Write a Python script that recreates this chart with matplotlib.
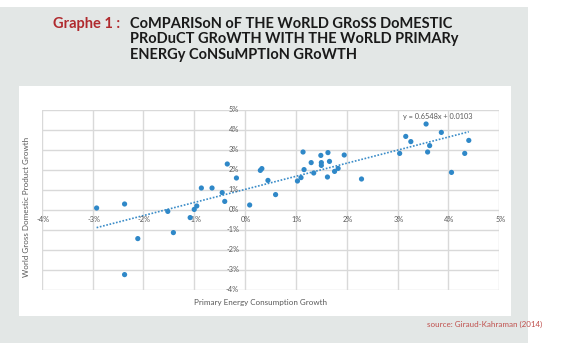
import numpy as np
import matplotlib
matplotlib.use('Agg')
import matplotlib.pyplot as plt
from matplotlib.patches import Rectangle

plt.rcParams['font.family'] = ['Lato', 'DejaVu Sans']

# Data (growth in %)
energy_growth = [-2.92, -2.37, -2.37, -2.11, -1.52, -1.41, -1.08, -1.00, -0.95, -0.86,
                 -0.65, -0.45, -0.40, -0.35, -0.17, 0.09, 0.30, 0.33, 0.45, 0.60,
                 1.03, 1.10, 1.14, 1.16, 1.30, 1.35, 1.49, 1.50, 1.50, 1.62,
                 1.63, 1.66, 1.76, 1.83, 1.95, 2.29, 3.04, 3.16, 3.26, 3.56,
                 3.59, 3.63, 3.86, 4.06, 4.32, 4.40]
gdp_growth = [0.10, 0.30, -3.23, -1.43, -0.07, -1.13, -0.38, 0.03, 0.20, 1.10,
              1.10, 0.87, 0.43, 2.30, 1.60, 0.25, 1.98, 2.07, 1.48, 0.77,
              1.45, 1.62, 2.90, 2.02, 2.37, 1.85, 2.73, 2.37, 2.23, 1.65,
              2.87, 2.43, 1.93, 2.08, 2.75, 1.55, 2.83, 3.68, 3.42, 4.30,
              2.90, 3.22, 3.88, 1.88, 2.83, 3.48]
slope = 0.6548
intercept = 0.0103
tick_vals = [-4, -3, -2, -1, 0, 1, 2, 3, 4, 5]

W, H = 563, 353
fig = plt.figure(figsize=(W / 100, H / 100), dpi=100)
fig.patch.set_facecolor('white')

def fx(px):
    return px / W

def fy(py):
    return 1 - py / H

# gray page background and white chart panel
fig.patches.append(Rectangle((fx(0), fy(343)), fx(528), fy(7) - fy(343),
                             transform=fig.transFigure, facecolor='#e3e7e6',
                             edgecolor='none', zorder=-3))
fig.patches.append(Rectangle((fx(19), fy(316)), fx(511) - fx(19), fy(86) - fy(316),
                             transform=fig.transFigure, facecolor='white',
                             edgecolor='none', zorder=-2))

# title
red = '#b02a2e'
fig.text(fx(53), fy(24), 'Graphe 1 :', color=red, fontsize=10.5, fontweight='bold',
         ha='left', va='center')
title_lines = ['CoMPARISoN oF THE WoRLD GRoSS DoMESTIC',
               'PRoDuCT GRoWTH WITH THE WoRLD PRIMARy',
               'ENERGy CoNSuMPTIoN GRoWTH']
for i, line in enumerate(title_lines):
    fig.text(fx(130), fy(24 + 15.5 * i), line, color='#1a1a1a', fontsize=10.5,
             fontweight='bold', ha='left', va='center')

fig.text(fx(427), fy(324), 'source: Giraud-Kahraman (2014)', color='#c0504d',
         fontsize=5.8, ha='left', va='center')

# plot area
ax = fig.add_axes([fx(41.7), fy(290), fx(499.3) - fx(41.7), fy(110) - fy(290)])
ax.set_zorder(2)
ax.set_xlim(-4, 5)
ax.set_ylim(-4, 5)
ax.patch.set_alpha(0)
for s in ax.spines.values():
    s.set_visible(False)
ax.set_xticks([])
ax.set_yticks([])

grid_col = '#d9d9d9'
for v in tick_vals:
    ax.axvline(v, color=grid_col, lw=1.0, zorder=1)
    ax.axhline(v, color=grid_col, lw=1.0, zorder=1)

# tick labels sitting on the zero axes (Excel style)
lab_col = '#595959'
for v in tick_vals:
    ax.annotate('%d%%' % v, (0, v), xytext=(-6, 0), textcoords='offset pixels',
                ha='right', va='center', fontsize=5.3, color=lab_col)
    ax.annotate('%d%%' % v, (v, 0), xytext=(1, -10), textcoords='offset pixels',
                ha='center', va='center', fontsize=5.3, color=lab_col)

# points and trend line
ax.scatter(energy_growth, gdp_growth, s=14, color='#2f88c8', zorder=3,
           edgecolors='none')
xt = np.array([min(energy_growth), max(energy_growth)])
yt = slope * xt + intercept * 100
ax.plot(xt, yt, color='#3a8cc8', lw=1.2, ls=(0, (1, 1)), zorder=2)

# equation label of the trend line
ax.text(3.78, 4.7, 'y = %.4fx + %.4f' % (slope, intercept), ha='center',
        va='center', fontsize=5.3, color=lab_col)

fig.text(fx(261), fy(303), 'Primary Energy Consumption Growth', ha='center',
         va='center', fontsize=5.8, color=lab_col)
fig.text(fx(27), fy(207), 'World Gross Domestic Product Growth', ha='center',
         va='center', rotation=90, fontsize=5.8, color=lab_col)

fig.savefig('out.png', dpi=100)
